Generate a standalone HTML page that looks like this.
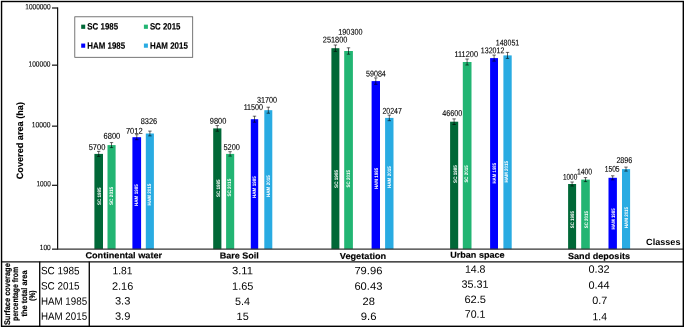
<!DOCTYPE html>
<html><head><meta charset="utf-8"><title>Covered area chart</title>
<style>
html,body{margin:0;padding:0;background:#fff;}
svg{display:block;font-family:"Liberation Sans",sans-serif;text-rendering:geometricPrecision;}
</style></head><body>
<svg width="685" height="328" viewBox="0 0 685 328">
<rect x="0" y="0" width="685" height="328" fill="#fff"/>
<rect x="94.4" y="153.9" width="8.6" height="95.2" fill="#006837"/>
<rect x="107.5" y="145.1" width="8.1" height="104.1" fill="#22b573"/>
<rect x="132.4" y="137.2" width="8.7" height="112.0" fill="#0000ff"/>
<rect x="145.8" y="133.5" width="8.1" height="115.7" fill="#29abe2"/>
<rect x="213.2" y="128.4" width="8.2" height="120.8" fill="#006837"/>
<rect x="226.1" y="153.9" width="8.1" height="95.2" fill="#22b573"/>
<rect x="250.8" y="119.2" width="7.4" height="129.9" fill="#0000ff"/>
<rect x="264.3" y="110.2" width="8.0" height="138.9" fill="#29abe2"/>
<rect x="331.4" y="48.2" width="8.0" height="200.9" fill="#006837"/>
<rect x="344.2" y="51.0" width="8.7" height="198.2" fill="#22b573"/>
<rect x="371.6" y="81.1" width="8.4" height="168.1" fill="#0000ff"/>
<rect x="385.1" y="117.9" width="8.4" height="131.2" fill="#29abe2"/>
<rect x="450.1" y="121.7" width="8.1" height="127.5" fill="#006837"/>
<rect x="462.8" y="62.0" width="8.7" height="187.2" fill="#22b573"/>
<rect x="490.1" y="58.1" width="7.9" height="191.1" fill="#0000ff"/>
<rect x="503.4" y="55.4" width="8.3" height="193.8" fill="#29abe2"/>
<rect x="568.1" y="184.0" width="8.0" height="65.2" fill="#006837"/>
<rect x="581.2" y="179.6" width="8.6" height="69.6" fill="#22b573"/>
<rect x="608.5" y="177.8" width="8.4" height="71.3" fill="#0000ff"/>
<rect x="622.0" y="169.1" width="8.1" height="80.1" fill="#29abe2"/>
<path d="M98.7 151.4V156.4M97.0 151.4h3.4M97.0 156.4h3.4M111.5 142.6V147.6M109.8 142.6h3.4M109.8 147.6h3.4M136.8 134.7V139.7M135.1 134.7h3.4M135.1 139.7h3.4M149.9 131.1V135.9M148.2 131.1h3.4M148.2 135.9h3.4M217.3 125.6V131.2M215.6 125.6h3.4M215.6 131.2h3.4M230.1 151.7V156.1M228.4 151.7h3.4M228.4 156.1h3.4M254.5 116.2V122.2M252.8 116.2h3.4M252.8 122.2h3.4M268.3 107.2V113.2M266.6 107.2h3.4M266.6 113.2h3.4M335.4 45.0V51.4M333.7 45.0h3.4M333.7 51.4h3.4M348.5 47.8V54.2M346.8 47.8h3.4M346.8 54.2h3.4M375.8 77.9V84.3M374.1 77.9h3.4M374.1 84.3h3.4M389.3 115.1V120.7M387.6 115.1h3.4M387.6 120.7h3.4M454.1 118.9V124.5M452.4 118.9h3.4M452.4 124.5h3.4M467.1 59.0V65.0M465.4 59.0h3.4M465.4 65.0h3.4M494.1 55.1V61.1M492.4 55.1h3.4M492.4 61.1h3.4M507.5 52.4V58.4M505.8 52.4h3.4M505.8 58.4h3.4M572.1 182.0V186.0M570.4 182.0h3.4M570.4 186.0h3.4M585.5 177.6V181.6M583.8 177.6h3.4M583.8 181.6h3.4M612.7 175.8V179.8M611.0 175.8h3.4M611.0 179.8h3.4M626.0 167.1V171.1M624.3 167.1h3.4M624.3 171.1h3.4" stroke="#000" stroke-width="0.6" fill="none"/>
<text transform="translate(100.8 205.0) rotate(-90)" font-size="5" font-weight="bold" fill="#fff" textLength="17.6" lengthAdjust="spacingAndGlyphs">SC 1985</text>
<text transform="translate(112.8 205.0) rotate(-90)" font-size="5" font-weight="bold" fill="#fff" textLength="18.2" lengthAdjust="spacingAndGlyphs">SC 2015</text>
<text transform="translate(138.2 205.9) rotate(-90)" font-size="5" font-weight="bold" fill="#fff" textLength="21.6" lengthAdjust="spacingAndGlyphs">HAM 1985</text>
<text transform="translate(151.2 205.4) rotate(-90)" font-size="5" font-weight="bold" fill="#fff" textLength="21.8" lengthAdjust="spacingAndGlyphs">HAM 2015</text>
<text transform="translate(219.8 197.0) rotate(-90)" font-size="5" font-weight="bold" fill="#fff" textLength="17.6" lengthAdjust="spacingAndGlyphs">SC 1985</text>
<text transform="translate(230.7 196.6) rotate(-90)" font-size="5" font-weight="bold" fill="#fff" textLength="17.8" lengthAdjust="spacingAndGlyphs">SC 2015</text>
<text transform="translate(256.4 197.9) rotate(-90)" font-size="5" font-weight="bold" fill="#fff" textLength="21.6" lengthAdjust="spacingAndGlyphs">HAM 1985</text>
<text transform="translate(270.2 196.9) rotate(-90)" font-size="5" font-weight="bold" fill="#fff" textLength="21.6" lengthAdjust="spacingAndGlyphs">HAM 2015</text>
<text transform="translate(337.9 187.9) rotate(-90)" font-size="5" font-weight="bold" fill="#fff" textLength="17.9" lengthAdjust="spacingAndGlyphs">SC 1985</text>
<text transform="translate(350.1 187.4) rotate(-90)" font-size="5" font-weight="bold" fill="#fff" textLength="17.4" lengthAdjust="spacingAndGlyphs">SC 2015</text>
<text transform="translate(378.4 189.1) rotate(-90)" font-size="5" font-weight="bold" fill="#fff" textLength="21.3" lengthAdjust="spacingAndGlyphs">HAM 1985</text>
<text transform="translate(391.1 187.9) rotate(-90)" font-size="5" font-weight="bold" fill="#fff" textLength="21.6" lengthAdjust="spacingAndGlyphs">HAM 2015</text>
<text transform="translate(457.1 182.9) rotate(-90)" font-size="5" font-weight="bold" fill="#fff" textLength="17.8" lengthAdjust="spacingAndGlyphs">SC 1985</text>
<text transform="translate(468.4 182.6) rotate(-90)" font-size="5" font-weight="bold" fill="#fff" textLength="17.3" lengthAdjust="spacingAndGlyphs">SC 2015</text>
<text transform="translate(495.8 183.6) rotate(-90)" font-size="5" font-weight="bold" fill="#fff" textLength="20.8" lengthAdjust="spacingAndGlyphs">HAM 1985</text>
<text transform="translate(508.4 182.6) rotate(-90)" font-size="5" font-weight="bold" fill="#fff" textLength="21.6" lengthAdjust="spacingAndGlyphs">HAM 2015</text>
<text transform="translate(574.0 228.3) rotate(-90)" font-size="5" font-weight="bold" fill="#fff" textLength="17.2" lengthAdjust="spacingAndGlyphs">SC 1985</text>
<text transform="translate(588.0 228.3) rotate(-90)" font-size="5" font-weight="bold" fill="#fff" textLength="17.2" lengthAdjust="spacingAndGlyphs">SC 2015</text>
<text transform="translate(614.8 229.5) rotate(-90)" font-size="5" font-weight="bold" fill="#fff" textLength="21.3" lengthAdjust="spacingAndGlyphs">HAM 1985</text>
<text transform="translate(627.5 228.3) rotate(-90)" font-size="5" font-weight="bold" fill="#fff" textLength="21.4" lengthAdjust="spacingAndGlyphs">HAM 2015</text>
<text x="88.7" y="150.0" font-size="8.4" textLength="16.7" lengthAdjust="spacingAndGlyphs" transform="rotate(0.06 88.7 150.0)" stroke="#000" stroke-width="0.12">5700</text>
<text x="103.6" y="138.7" font-size="8.4" textLength="16.7" lengthAdjust="spacingAndGlyphs" transform="rotate(0.06 103.6 138.7)" stroke="#000" stroke-width="0.12">6800</text>
<text x="125.9" y="133.7" font-size="8.4" textLength="16.7" lengthAdjust="spacingAndGlyphs" transform="rotate(0.06 125.9 133.7)" stroke="#000" stroke-width="0.12">7012</text>
<text x="140.7" y="123.9" font-size="8.4" textLength="16.5" lengthAdjust="spacingAndGlyphs" transform="rotate(0.06 140.7 123.9)" stroke="#000" stroke-width="0.12">8326</text>
<text x="209.8" y="123.7" font-size="8.4" textLength="16.5" lengthAdjust="spacingAndGlyphs" transform="rotate(0.06 209.8 123.7)" stroke="#000" stroke-width="0.12">9800</text>
<text x="223.4" y="149.9" font-size="8.4" textLength="16.5" lengthAdjust="spacingAndGlyphs" transform="rotate(0.06 223.4 149.9)" stroke="#000" stroke-width="0.12">5200</text>
<text x="243.7" y="110.1" font-size="8.4" textLength="19.3" lengthAdjust="spacingAndGlyphs" transform="rotate(0.06 243.7 110.1)" stroke="#000" stroke-width="0.12">11500</text>
<text x="256.9" y="102.7" font-size="8.4" textLength="20.1" lengthAdjust="spacingAndGlyphs" transform="rotate(0.06 256.9 102.7)" stroke="#000" stroke-width="0.12">31700</text>
<text x="322.8" y="42.55" font-size="8.4" textLength="24.6" lengthAdjust="spacingAndGlyphs" transform="rotate(0.06 322.8 42.55)" stroke="#000" stroke-width="0.12">251800</text>
<text x="338.3" y="34.7" font-size="8.4" textLength="24.2" lengthAdjust="spacingAndGlyphs" transform="rotate(0.06 338.3 34.7)" stroke="#000" stroke-width="0.12">190300</text>
<text x="366.1" y="76.4" font-size="8.4" textLength="19.7" lengthAdjust="spacingAndGlyphs" transform="rotate(0.06 366.1 76.4)" stroke="#000" stroke-width="0.12">59084</text>
<text x="382.4" y="113.7" font-size="8.4" textLength="19.5" lengthAdjust="spacingAndGlyphs" transform="rotate(0.06 382.4 113.7)" stroke="#000" stroke-width="0.12">20247</text>
<text x="442.2" y="116.0" font-size="8.4" textLength="20.0" lengthAdjust="spacingAndGlyphs" transform="rotate(0.06 442.2 116.0)" stroke="#000" stroke-width="0.12">46600</text>
<text x="454.5" y="57.0" font-size="8.4" textLength="23.5" lengthAdjust="spacingAndGlyphs" transform="rotate(0.06 454.5 57.0)" stroke="#000" stroke-width="0.12">111200</text>
<text x="480.8" y="53.15" font-size="8.4" textLength="23.5" lengthAdjust="spacingAndGlyphs" transform="rotate(0.06 480.8 53.15)" stroke="#000" stroke-width="0.12">132012</text>
<text x="495.8" y="45.45" font-size="8.4" textLength="23.4" lengthAdjust="spacingAndGlyphs" transform="rotate(0.06 495.8 45.45)" stroke="#000" stroke-width="0.12">148051</text>
<text x="562.9" y="179.7" font-size="8.4" textLength="14.4" lengthAdjust="spacingAndGlyphs" transform="rotate(0.06 562.9 179.7)" stroke="#000" stroke-width="0.12">1000</text>
<text x="576.9" y="174.6" font-size="8.4" textLength="15.3" lengthAdjust="spacingAndGlyphs" transform="rotate(0.06 576.9 174.6)" stroke="#000" stroke-width="0.12">1400</text>
<text x="604.7" y="171.7" font-size="8.4" textLength="14.9" lengthAdjust="spacingAndGlyphs" transform="rotate(0.06 604.7 171.7)" stroke="#000" stroke-width="0.12">1505</text>
<text x="616.4" y="163.0" font-size="8.4" textLength="15.9" lengthAdjust="spacingAndGlyphs" transform="rotate(0.06 616.4 163.0)" stroke="#000" stroke-width="0.12">2896</text>
<path d="M57.6 7.4V249.15" stroke="#111" stroke-width="1.25" fill="none"/>
<path d="M57 249.15H683" stroke="#333" stroke-width="1.1" fill="none"/>
<path d="M52 8.0H57.6" stroke="#111" stroke-width="1.2" fill="none"/>
<text x="25.3" y="9.3" font-size="7.6" textLength="25.3" lengthAdjust="spacingAndGlyphs" transform="rotate(0.06 25.3 9.3)" stroke="#000" stroke-width="0.12">1000000</text>
<path d="M52 65.15H57.6" stroke="#111" stroke-width="1.2" fill="none"/>
<text x="28.6" y="66.4" font-size="7.6" textLength="21.8" lengthAdjust="spacingAndGlyphs" transform="rotate(0.06 28.6 66.4)" stroke="#000" stroke-width="0.12">100000</text>
<path d="M52 126.15H57.6" stroke="#111" stroke-width="1.2" fill="none"/>
<text x="31.8" y="127.2" font-size="7.6" textLength="18.6" lengthAdjust="spacingAndGlyphs" transform="rotate(0.06 31.8 127.2)" stroke="#000" stroke-width="0.12">10000</text>
<path d="M52 185.3H57.6" stroke="#111" stroke-width="1.2" fill="none"/>
<text x="36.5" y="186.35" font-size="7.6" textLength="14.2" lengthAdjust="spacingAndGlyphs" transform="rotate(0.06 36.5 186.35)" stroke="#000" stroke-width="0.12">1000</text>
<path d="M52 249.15H57.6" stroke="#111" stroke-width="1.2" fill="none"/>
<text x="39.8" y="250.1" font-size="7.6" textLength="10.9" lengthAdjust="spacingAndGlyphs" transform="rotate(0.06 39.8 250.1)" stroke="#000" stroke-width="0.12">100</text>
<text transform="translate(23.35 179.3) rotate(-90)" font-size="9.2" font-weight="bold" stroke="#000" stroke-width="0.15" textLength="77.3" lengthAdjust="spacingAndGlyphs">Covered area (ha)</text>
<rect x="74.8" y="16.8" width="117.9" height="40.5" fill="#fff" stroke="#555" stroke-width="0.8"/>
<rect x="81.2" y="24.65" width="4.0" height="4.2" fill="#006837"/>
<text x="87.3" y="29.6" font-size="9.2" font-weight="bold" textLength="30.8" lengthAdjust="spacingAndGlyphs" transform="rotate(0.06 87.3 29.6)" stroke="#000" stroke-width="0.15">SC 1985</text>
<rect x="143.9" y="24.65" width="4.0" height="4.2" fill="#22b573"/>
<text x="149.9" y="29.6" font-size="9.2" font-weight="bold" textLength="30.5" lengthAdjust="spacingAndGlyphs" transform="rotate(0.06 149.9 29.6)" stroke="#000" stroke-width="0.15">SC 2015</text>
<rect x="81.2" y="43.55" width="4.0" height="4.2" fill="#0000ff"/>
<text x="87.3" y="48.7" font-size="9.2" font-weight="bold" textLength="37.8" lengthAdjust="spacingAndGlyphs" transform="rotate(0.06 87.3 48.7)" stroke="#000" stroke-width="0.15">HAM 1985</text>
<rect x="143.9" y="43.55" width="4.0" height="4.2" fill="#29abe2"/>
<text x="149.9" y="48.7" font-size="9.2" font-weight="bold" textLength="38.0" lengthAdjust="spacingAndGlyphs" transform="rotate(0.06 149.9 48.7)" stroke="#000" stroke-width="0.15">HAM 2015</text>
<text x="85.4" y="258.25" font-size="8.7" font-weight="bold" textLength="76.7" lengthAdjust="spacingAndGlyphs" transform="rotate(0.06 85.4 258.25)" stroke="#000" stroke-width="0.15">Continental water</text>
<text x="219.7" y="258.55" font-size="8.7" font-weight="bold" textLength="39.2" lengthAdjust="spacingAndGlyphs" transform="rotate(0.06 219.7 258.55)" stroke="#000" stroke-width="0.15">Bare Soil</text>
<text x="339.8" y="258.95" font-size="8.7" font-weight="bold" textLength="46.4" lengthAdjust="spacingAndGlyphs" transform="rotate(0.06 339.8 258.95)" stroke="#000" stroke-width="0.15">Vegetation</text>
<text x="450.2" y="257.7" font-size="8.7" font-weight="bold" textLength="54.4" lengthAdjust="spacingAndGlyphs" transform="rotate(0.06 450.2 257.7)" stroke="#000" stroke-width="0.15">Urban space</text>
<text x="568.0" y="258.9" font-size="8.7" font-weight="bold" textLength="62.0" lengthAdjust="spacingAndGlyphs" transform="rotate(0.06 568.0 258.9)" stroke="#000" stroke-width="0.15">Sand deposits</text>
<text x="646.1" y="245.1" font-size="9.0" font-weight="bold" textLength="34.4" lengthAdjust="spacingAndGlyphs" transform="rotate(0.06 646.1 245.1)">Classes</text>
<path d="M1.5 261.9H683" stroke="#111" stroke-width="1.4" fill="none"/>
<path d="M39.7 261.4V326M89.3 261.4V326" stroke="#111" stroke-width="1.4" fill="none"/>
<text x="40.9" y="274.35" font-size="10.6" textLength="38.6" lengthAdjust="spacingAndGlyphs" transform="rotate(0.06 40.9 274.35)">SC 1985</text>
<text x="40.9" y="289.55" font-size="10.6" textLength="38.6" lengthAdjust="spacingAndGlyphs" transform="rotate(0.06 40.9 289.55)">SC 2015</text>
<text x="40.9" y="304.65" font-size="10.6" textLength="46.2" lengthAdjust="spacingAndGlyphs" transform="rotate(0.06 40.9 304.65)">HAM 1985</text>
<text x="40.9" y="319.75" font-size="10.6" textLength="46.2" lengthAdjust="spacingAndGlyphs" transform="rotate(0.06 40.9 319.75)">HAM 2015</text>
<text x="112.5" y="274.14" font-size="10.7" textLength="20.0" lengthAdjust="spacingAndGlyphs" transform="rotate(0.06 112.5 274.14)">1.81</text>
<text x="112.0" y="289.74" font-size="10.7" textLength="21.3" lengthAdjust="spacingAndGlyphs" transform="rotate(0.06 112.0 289.74)">2.16</text>
<text x="114.9" y="304.56" font-size="10.7" textLength="15.4" lengthAdjust="spacingAndGlyphs" transform="rotate(0.06 114.9 304.56)">3.3</text>
<text x="114.9" y="319.77" font-size="10.7" textLength="15.4" lengthAdjust="spacingAndGlyphs" transform="rotate(0.06 114.9 319.77)">3.9</text>
<text x="231.9" y="274.34" font-size="10.7" textLength="21.0" lengthAdjust="spacingAndGlyphs" transform="rotate(0.06 231.9 274.34)">3.11</text>
<text x="232.1" y="289.74" font-size="10.7" textLength="21.4" lengthAdjust="spacingAndGlyphs" transform="rotate(0.06 232.1 289.74)">1.65</text>
<text x="235.1" y="304.95" font-size="10.7" textLength="15.0" lengthAdjust="spacingAndGlyphs" transform="rotate(0.06 235.1 304.95)">5.4</text>
<text x="236.6" y="319.95" font-size="10.7" textLength="12.1" lengthAdjust="spacingAndGlyphs" transform="rotate(0.06 236.6 319.95)">15</text>
<text x="354.4" y="274.34" font-size="10.7" textLength="28.0" lengthAdjust="spacingAndGlyphs" transform="rotate(0.06 354.4 274.34)">79.96</text>
<text x="354.4" y="289.7" font-size="10.7" textLength="28.0" lengthAdjust="spacingAndGlyphs" transform="rotate(0.06 354.4 289.7)">60.43</text>
<text x="362.5" y="304.95" font-size="10.7" textLength="12.3" lengthAdjust="spacingAndGlyphs" transform="rotate(0.06 362.5 304.95)">28</text>
<text x="360.8" y="319.9" font-size="10.7" textLength="15.7" lengthAdjust="spacingAndGlyphs" transform="rotate(0.06 360.8 319.9)">9.6</text>
<text x="464.9" y="272.78" font-size="10.7" textLength="20.6" lengthAdjust="spacingAndGlyphs" transform="rotate(0.06 464.9 272.78)">14.8</text>
<text x="461.6" y="287.79" font-size="10.7" textLength="27.0" lengthAdjust="spacingAndGlyphs" transform="rotate(0.06 461.6 287.79)">35.31</text>
<text x="464.4" y="303.0" font-size="10.7" textLength="21.6" lengthAdjust="spacingAndGlyphs" transform="rotate(0.06 464.4 303.0)">62.5</text>
<text x="464.8" y="317.63" font-size="10.7" textLength="20.6" lengthAdjust="spacingAndGlyphs" transform="rotate(0.06 464.8 317.63)">70.1</text>
<text x="588.4" y="272.78" font-size="10.7" textLength="21.3" lengthAdjust="spacingAndGlyphs" transform="rotate(0.06 588.4 272.78)">0.32</text>
<text x="588.4" y="288.77" font-size="10.7" textLength="21.3" lengthAdjust="spacingAndGlyphs" transform="rotate(0.06 588.4 288.77)">0.44</text>
<text x="592.3" y="303.98" font-size="10.7" textLength="15.0" lengthAdjust="spacingAndGlyphs" transform="rotate(0.06 592.3 303.98)">0.7</text>
<text x="592.5" y="320.16" font-size="10.7" textLength="14.4" lengthAdjust="spacingAndGlyphs" transform="rotate(0.06 592.5 320.16)">1.4</text>
<text transform="translate(9.7 325.1) rotate(-90)" font-size="8.2" font-weight="bold" stroke="#000" stroke-width="0.2" textLength="61.9" lengthAdjust="spacingAndGlyphs">Surface coverage</text>
<text transform="translate(18.0 321.0) rotate(-90)" font-size="8.2" font-weight="bold" stroke="#000" stroke-width="0.2" textLength="54.1" lengthAdjust="spacingAndGlyphs">percentage from</text>
<text transform="translate(27.3 316.4) rotate(-90)" font-size="8.2" font-weight="bold" stroke="#000" stroke-width="0.2" textLength="46.0" lengthAdjust="spacingAndGlyphs">the total area</text>
<text transform="translate(35.3 300.8) rotate(-90)" font-size="8.2" font-weight="bold" stroke="#000" stroke-width="0.2" textLength="10.3" lengthAdjust="spacingAndGlyphs">(%)</text>
<rect x="1.55" y="1.5" width="681.75" height="324.8" fill="none" stroke="#000" stroke-width="1.4"/>
</svg>
</body></html>
